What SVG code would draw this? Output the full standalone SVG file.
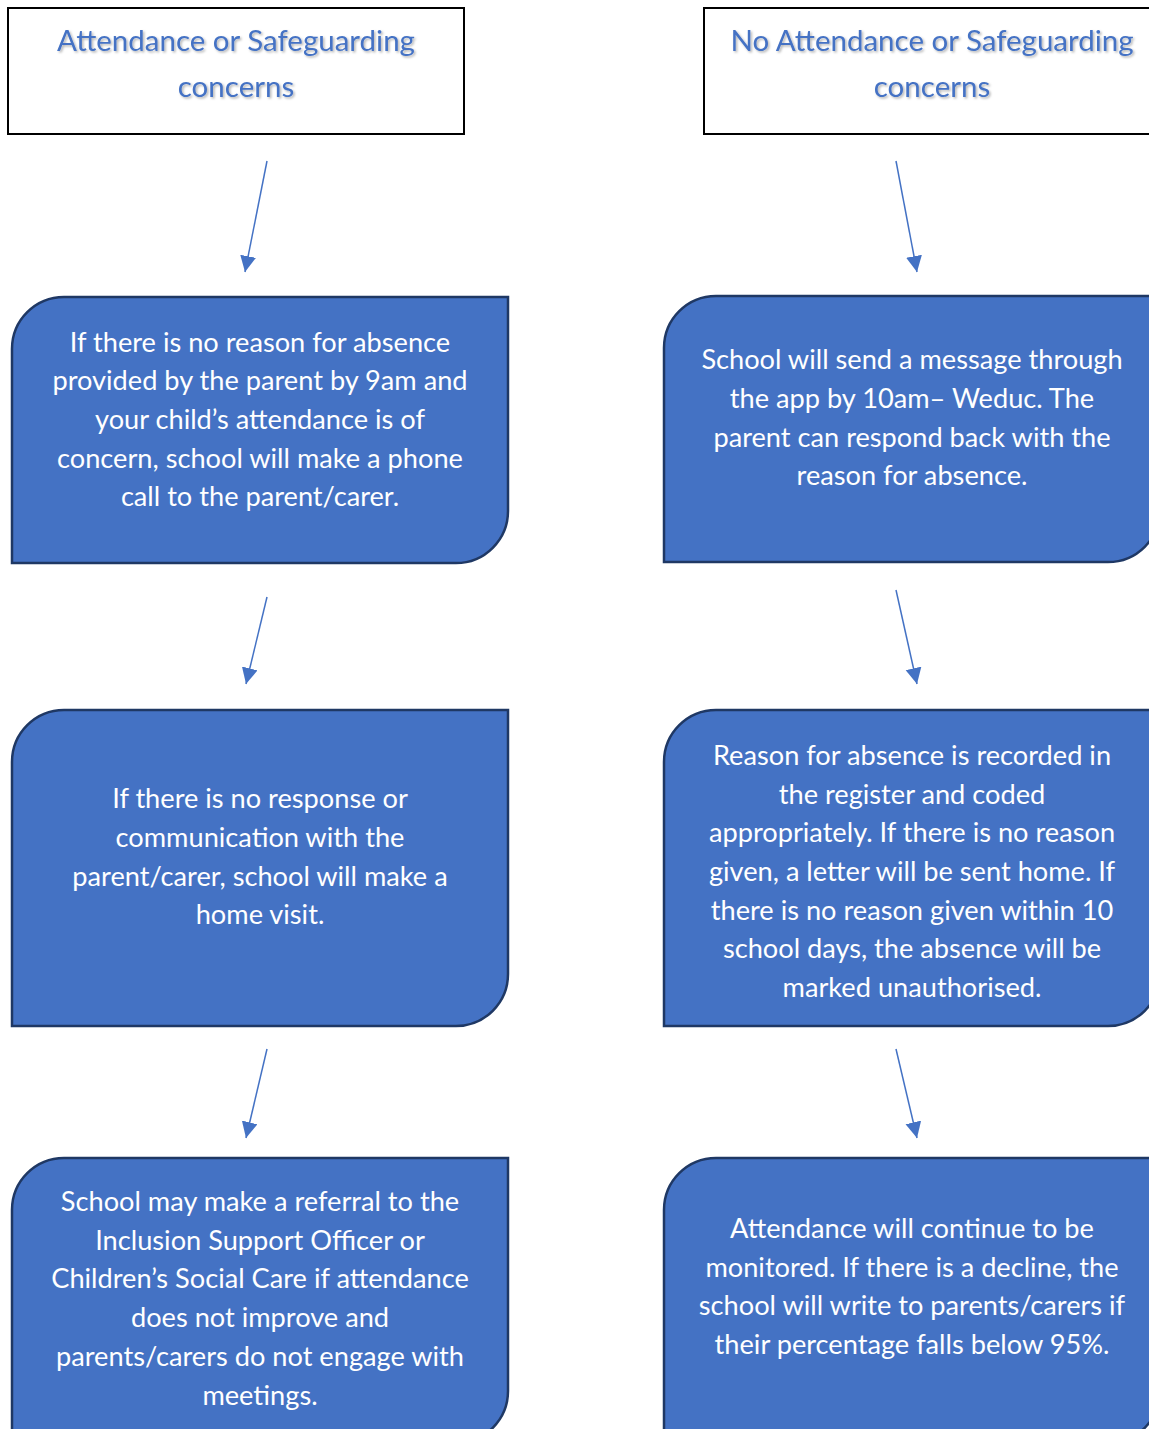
<svg xmlns="http://www.w3.org/2000/svg" width="1149" height="1429" viewBox="0 0 1149 1429">
<style>
.title{font-family:Lato,"Liberation Sans",sans-serif;font-size:29.5px;fill:#4472C4;text-anchor:middle;filter:url(#sh)}
.hdr{fill:#fff;stroke:#000;stroke-width:2}
.box{fill:#4472C4;stroke:#1F3864;stroke-width:2.5}
.t{font-family:Lato,"Liberation Sans",sans-serif;font-size:27.2px;fill:#fff;text-anchor:middle}
.arr{stroke:#4472C4;stroke-width:1.5;fill:none;marker-end:url(#ah)}
</style>
<defs>
<filter id="sh" x="-10%" y="-20%" width="120%" height="150%">
<feDropShadow dx="1.5" dy="1.5" stdDeviation="1" flood-color="#000" flood-opacity="0.3"/>
</filter>
<marker id="ah" markerUnits="userSpaceOnUse" markerWidth="17" markerHeight="17" refX="16" refY="8" orient="auto">
<path d="M0,0 L16,8 L0,16 z" fill="#4472C4"/>
</marker>
</defs>
<rect width="1149" height="1429" fill="#fff"/>

<g id="hdr-left">
<rect class="hdr" x="8" y="8" width="456" height="126"/>
<text class="title" x="236" y="51">Attendance or Safeguarding</text>
<text class="title" x="236" y="97">concerns</text>
</g>
<g id="hdr-right">
<rect class="hdr" x="704" y="8" width="456" height="126"/>
<text class="title" x="932" y="51">No Attendance or Safeguarding</text>
<text class="title" x="932" y="97">concerns</text>
</g>

<g id="left-1">
<path class="box" d="M12,349 A52,52 0 0 1 64,297 L508,297 L508,511 A52,52 0 0 1 456,563 L12,563 Z"/>
<text class="t" x="260" y="352">If there is no reason for absence</text>
<text class="t" x="260" y="390">provided by the parent by 9am and</text>
<text class="t" x="260" y="429">your child’s attendance is of</text>
<text class="t" x="260" y="468">concern, school will make a phone</text>
<text class="t" x="260" y="506">call to the parent/carer.</text>
</g>
<g id="left-2">
<path class="box" d="M12,762 A52,52 0 0 1 64,710 L508,710 L508,974 A52,52 0 0 1 456,1026 L12,1026 Z"/>
<text class="t" x="260" y="808">If there is no response or</text>
<text class="t" x="260" y="847">communication with the</text>
<text class="t" x="260" y="886">parent/carer, school will make a</text>
<text class="t" x="260" y="924">home visit.</text>
</g>
<g id="left-3">
<path class="box" d="M12,1210 A52,52 0 0 1 64,1158 L508,1158 L508,1391 A52,52 0 0 1 456,1443 L12,1443 Z"/>
<text class="t" x="260" y="1211">School may make a referral to the</text>
<text class="t" x="260" y="1250">Inclusion Support Officer or</text>
<text class="t" x="260" y="1288">Children’s Social Care if attendance</text>
<text class="t" x="260" y="1327">does not improve and</text>
<text class="t" x="260" y="1366">parents/carers do not engage with</text>
<text class="t" x="260" y="1405">meetings.</text>
</g>

<g id="right-1">
<path class="box" d="M664,348 A52,52 0 0 1 716,296 L1160,296 L1160,510 A52,52 0 0 1 1108,562 L664,562 Z"/>
<text class="t" x="912" y="369">School will send a message through</text>
<text class="t" x="912" y="408">the app by 10am– Weduc. The</text>
<text class="t" x="912" y="447">parent can respond back with the</text>
<text class="t" x="912" y="485">reason for absence.</text>
</g>
<g id="right-2">
<path class="box" d="M664,762 A52,52 0 0 1 716,710 L1160,710 L1160,974 A52,52 0 0 1 1108,1026 L664,1026 Z"/>
<text class="t" x="912" y="765">Reason for absence is recorded in</text>
<text class="t" x="912" y="804">the register and coded</text>
<text class="t" x="912" y="842">appropriately. If there is no reason</text>
<text class="t" x="912" y="881">given, a letter will be sent home. If</text>
<text class="t" x="912" y="920">there is no reason given within 10</text>
<text class="t" x="912" y="958">school days, the absence will be</text>
<text class="t" x="912" y="997">marked unauthorised.</text>
</g>
<g id="right-3">
<path class="box" d="M664,1210 A52,52 0 0 1 716,1158 L1160,1158 L1160,1391 A52,52 0 0 1 1108,1443 L664,1443 Z"/>
<text class="t" x="912" y="1238">Attendance will continue to be</text>
<text class="t" x="912" y="1277">monitored. If there is a decline, the</text>
<text class="t" x="912" y="1315">school will write to parents/carers if</text>
<text class="t" x="912" y="1354">their percentage falls below 95%.</text>
</g>

<g id="connectors">
<line class="arr" x1="267" y1="161" x2="245" y2="272"/>
<line class="arr" x1="267" y1="597" x2="246" y2="684"/>
<line class="arr" x1="267" y1="1049" x2="246" y2="1138"/>
<line class="arr" x1="896" y1="161" x2="917" y2="272"/>
<line class="arr" x1="896" y1="590" x2="917" y2="684"/>
<line class="arr" x1="896" y1="1049" x2="917" y2="1138"/>
</g>
</svg>
